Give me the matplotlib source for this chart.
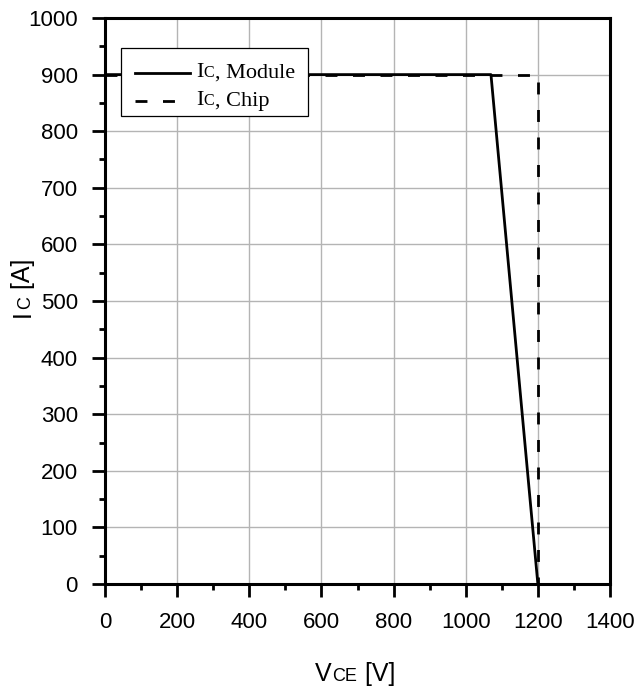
import matplotlib
matplotlib.use("Agg")
import matplotlib.pyplot as plt
from matplotlib.patches import Rectangle
from matplotlib.ticker import MultipleLocator

# ---- data ----
vce_module = [0, 1070, 1200]
ic_module = [900, 900, 0]
vce_chip = [0, 1200, 1200]
ic_chip = [900, 900, 0]
x_ticks = [0, 200, 400, 600, 800, 1000, 1200, 1400]
y_ticks = [0, 100, 200, 300, 400, 500, 600, 700, 800, 900, 1000]
legend_main = ["I", "I"]
legend_sub = ["C", "C"]
legend_rest = [", Module", ", Chip"]

W, H = 637, 689
fig = plt.figure(figsize=(W / 100, H / 100), dpi=100)
ax = fig.add_axes([105 / W, 1 - 584 / H, 505 / W, 566 / H])

SANS = "Liberation Sans"
SERIF = "Liberation Serif"
DESC = 0.21

ax.plot(vce_chip, ic_chip, color="black", lw=2.0, linestyle=(0, (4.3, 5.6)), zorder=3)
ax.plot(vce_module, ic_module, color="black", lw=2.0, zorder=4)

ax.set_xlim(0, 1400)
ax.set_ylim(0, 1000)
ax.set_xticks(x_ticks)
ax.set_yticks(y_ticks)
ax.xaxis.set_minor_locator(MultipleLocator(100))
ax.yaxis.set_minor_locator(MultipleLocator(50))
ax.grid(True, which="major", color="#b4b4b4", lw=1.0)
ax.set_axisbelow(True)
for s in ax.spines.values():
    s.set_linewidth(2.2)
ax.tick_params(which="major", direction="out", length=9.5, width=2.0,
               labelsize=16)
ax.tick_params(which="minor", direction="out", length=4.5, width=2.0)
ax.tick_params(axis="x", which="major", pad=11)
ax.tick_params(axis="y", which="major", pad=10)
for lab in ax.get_xticklabels() + ax.get_yticklabels():
    lab.set_family(SANS)


def chain_h(first, pieces):
    prev, prev_size = first
    for txt, size in pieces:
        t = ax.annotate(txt, xy=(1, 0), xycoords=prev,
                        xytext=(0.5, DESC * prev_size), textcoords="offset points",
                        fontsize=size, family=prev.get_family(), ha="left",
                        va="baseline", annotation_clip=False)
        prev, prev_size = t, size


def chain_v(first, pieces):
    prev, prev_size = first
    for txt, size in pieces:
        t = ax.annotate(txt, xy=(1, 1), xycoords=prev,
                        xytext=(-DESC * prev_size, 0.5), textcoords="offset points",
                        fontsize=size, family=prev.get_family(), ha="left",
                        va="baseline", rotation=90, rotation_mode="anchor",
                        annotation_clip=False)
        prev, prev_size = t, size


# x label: V_CE [V]
tV = fig.text(315 / W, 1 - 681 / H, "V", fontsize=18, family=SANS,
              ha="left", va="baseline")
chain_h((tV, 18), [("CE", 13), (" [V]", 18)])

# y label: I_C [A]
tI = fig.text(30 / W, 1 - 317 / H, "I", fontsize=18, family=SANS,
              ha="left", va="baseline", rotation=90, rotation_mode="anchor")
chain_v((tI, 18), [("C", 13), (" [A]", 18)])

# legend (manual, to allow the smaller subscript letter)
ax.add_patch(Rectangle((16 / 505, 1 - 98 / 566), 187 / 505, 68 / 566,
                       transform=ax.transAxes, facecolor="white",
                       edgecolor="black", lw=0.9, zorder=6))
ax.plot([30 / 505, 85 / 505], [1 - 55 / 566] * 2, transform=ax.transAxes,
        color="black", lw=2.0, zorder=7, clip_on=False)
ax.plot([30 / 505, 73 / 505], [1 - 83 / 566] * 2, transform=ax.transAxes,
        color="black", lw=2.0, linestyle=(0, (4.3, 5.6)), zorder=7, clip_on=False)
for i, ypx in enumerate([59, 87]):
    t = ax.text(91 / 505, 1 - ypx / 566, legend_main[i], transform=ax.transAxes,
                fontsize=16, family=SERIF, ha="left", va="baseline", zorder=8)
    prev, prev_size = t, 16
    for txt, size in [(legend_sub[i], 11.5), (legend_rest[i], 16)]:
        tt = ax.annotate(txt, xy=(1, 0), xycoords=prev,
                         xytext=(0.3, DESC * prev_size), textcoords="offset points",
                         fontsize=size, family=SERIF, ha="left", va="baseline",
                         annotation_clip=False, zorder=8)
        prev, prev_size = tt, size

fig.savefig("out.png", dpi=100)
